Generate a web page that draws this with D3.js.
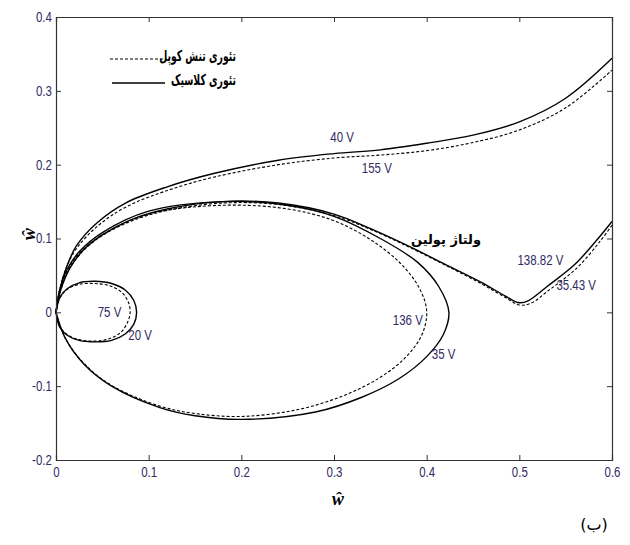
<!DOCTYPE html>
<html>
<head>
<meta charset="utf-8">
<script src="https://cdn.jsdelivr.net/npm/d3@7"></script>
<style>
  body { margin: 0; background: #fff; }
  .tick text { font-family: "Liberation Sans", Arial, sans-serif; font-size: 14px; fill: #2f2b63; }
  .ann { font-family: "Liberation Sans", Arial, sans-serif; font-size: 14px; fill: #2f2b63; }
  .fa { font-family: "DejaVu Sans", sans-serif; font-weight: bold; font-size: 13px; fill: #000; }
</style>
</head>
<body>
<svg id="chart" width="630" height="545"></svg>
<script>
// tick values
var xTicks = [0, 0.1, 0.2, 0.3, 0.4, 0.5, 0.6];
var xTickLabels = ['0', '0.1', '0.2', '0.3', '0.4', '0.5', '0.6'];
var yTicks = [-0.2, -0.1, 0, 0.1, 0.2, 0.3, 0.4];
var yTickLabels = ['-0.2', '-0.1', '0', '0.1', '0.2', '0.3', '0.4'];

// curves: [w, w-hat]
var top40 = [[0,0],[0.004,0.03],[0.011,0.06],[0.022,0.09],[0.045,0.122],[0.075,0.148],[0.12,0.17],[0.17,0.188],[0.24,0.206],[0.3,0.215],[0.35,0.22],[0.4,0.229],[0.45,0.24],[0.5,0.258],[0.55,0.29],[0.6,0.344]];
var top155 = [[0,0],[0.004,0.03],[0.011,0.06],[0.023,0.088],[0.046,0.118],[0.076,0.143],[0.12,0.165],[0.17,0.183],[0.24,0.2],[0.3,0.209],[0.35,0.213],[0.4,0.219],[0.45,0.23],[0.5,0.247],[0.55,0.277],[0.6,0.328]];

var pull3543 = [[0,0],[0.005,0.03],[0.015,0.06],[0.03,0.085],[0.05,0.105],[0.08,0.125],[0.12,0.14],[0.18,0.15],[0.24,0.148],[0.3,0.133],[0.34,0.113],[0.38,0.09],[0.42,0.065],[0.46,0.04],[0.485,0.022],[0.5,0.013],[0.51,0.016],[0.53,0.035],[0.56,0.065],[0.585,0.1],[0.6,0.123]];
var pull13882 = [[0,0],[0.005,0.03],[0.015,0.06],[0.03,0.084],[0.05,0.104],[0.08,0.123],[0.12,0.138],[0.18,0.148],[0.24,0.146],[0.3,0.131],[0.34,0.112],[0.38,0.089],[0.42,0.064],[0.46,0.038],[0.485,0.02],[0.5,0.01],[0.512,0.012],[0.532,0.03],[0.562,0.06],[0.587,0.096],[0.6,0.118]];

var loop35 = [[0,0],[0.004,0.03],[0.012,0.058],[0.025,0.082],[0.05,0.108],[0.1,0.137],[0.18,0.15],[0.25,0.145],[0.3,0.13],[0.35,0.1],[0.39,0.068],[0.413,0.035],[0.424,0],[0.418,-0.03],[0.4,-0.06],[0.37,-0.09],[0.33,-0.115],[0.28,-0.135],[0.2,-0.145],[0.15,-0.14],[0.112,-0.129],[0.06,-0.1],[0.03,-0.07],[0.01,-0.035],[0,0]];
var loop136 = [[0,0],[0.004,0.03],[0.012,0.057],[0.025,0.08],[0.05,0.105],[0.1,0.133],[0.18,0.145],[0.25,0.14],[0.3,0.124],[0.34,0.098],[0.372,0.066],[0.392,0.033],[0.4,0.002],[0.395,-0.03],[0.378,-0.06],[0.35,-0.088],[0.31,-0.113],[0.26,-0.132],[0.2,-0.141],[0.15,-0.137],[0.112,-0.127],[0.06,-0.099],[0.03,-0.069],[0.01,-0.035],[0,0]];

var loop20 = [[0,0],[0.004,0.02],[0.012,0.032],[0.025,0.04],[0.042,0.042],[0.06,0.039],[0.075,0.03],[0.084,0.016],[0.087,0],[0.084,-0.016],[0.075,-0.029],[0.06,-0.038],[0.042,-0.04],[0.025,-0.038],[0.012,-0.031],[0.004,-0.02],[0,0]];
var loop75 = [[0,0],[0.004,0.019],[0.012,0.031],[0.025,0.038],[0.042,0.039],[0.058,0.036],[0.071,0.027],[0.078,0.014],[0.08,0],[0.077,-0.014],[0.07,-0.027],[0.057,-0.036],[0.042,-0.039],[0.025,-0.037],[0.012,-0.03],[0.004,-0.019],[0,0]];

var solidCurves = [top40, pull3543, loop35, loop20];
var dashedCurves = [top155, pull13882, loop136, loop75];

// voltage labels [w, w-hat, text]
var voltLabels = [[0.296,0.237,'40 V'],[0.33,0.195,'155 V'],[0.045,0,'75 V'],[0.078,-0.031,'20 V'],[0.3635,-0.011,'136 V'],[0.4056,-0.056,'35 V'],[0.498,0.0705,'138.82 V'],[0.54,0.0366,'35.43 V']];

var svg = d3.select('#chart');

var x = d3.scaleLinear().domain([0, 0.6]).range([56, 612]);
var y = d3.scaleLinear().domain([-0.2, 0.4]).range([460, 17]);

var line = d3.line()
  .x(function(d){ return x(d[0]); })
  .y(function(d){ return y(d[1]); })
  .curve(d3.curveCatmullRom.alpha(0.5));

svg.append('g').selectAll('path')
  .data(solidCurves)
  .enter().append('path')
  .attr('d', line)
  .attr('fill', 'none')
  .attr('stroke', '#000')
  .attr('stroke-width', 1.4);

svg.append('g').selectAll('path')
  .data(dashedCurves)
  .enter().append('path')
  .attr('d', line)
  .attr('fill', 'none')
  .attr('stroke', '#000')
  .attr('stroke-width', 1.1)
  .attr('stroke-dasharray', '3,2');

// axes (MATLAB style box, inward ticks)
var fmtX = function(d, i){ return xTickLabels[i]; };
var fmtY = function(d, i){ return yTickLabels[i]; };

svg.append('g').attr('transform', 'translate(0,460)')
  .call(d3.axisBottom(x).tickValues(xTicks).tickFormat(fmtX).tickSize(-5).tickPadding(7));
svg.append('g').attr('transform', 'translate(56,0)')
  .call(d3.axisLeft(y).tickValues(yTicks).tickFormat(fmtY).tickSize(-5).tickPadding(5));
svg.append('g').attr('transform', 'translate(0,17)')
  .call(d3.axisTop(x).tickValues(xTicks).tickFormat('').tickSize(-5));
svg.append('g').attr('transform', 'translate(612,0)')
  .call(d3.axisRight(y).tickValues(yTicks).tickFormat('').tickSize(-5));

svg.selectAll('.domain').attr('stroke', '#333').attr('stroke-width', 1.2);
svg.selectAll('.tick line').attr('stroke', '#333');
// narrow look of the tick labels
svg.selectAll('.tick text').attr('transform', 'scale(0.82,1)');

// voltage annotations
svg.append('g').selectAll('text')
  .data(voltLabels)
  .enter().append('text')
  .attr('class', 'ann')
  .attr('transform', function(d){ return 'translate(' + x(d[0]) + ',' + y(d[1]) + ') scale(0.82,1)'; })
  .attr('dy', '0.35em')
  .text(function(d){ return d[2]; });

// pull-in label
svg.append('text').attr('class', 'fa')
  .attr('x', 446).attr('y', 244)
  .attr('text-anchor', 'middle')
  .text('ولتاژ پولین');

// legend
svg.append('line').attr('x1', 110).attr('x2', 166).attr('y1', 59).attr('y2', 59)
  .attr('stroke', '#000').attr('stroke-width', 1.1).attr('stroke-dasharray', '3,2');
svg.append('line').attr('x1', 112).attr('x2', 165).attr('y1', 83).attr('y2', 83)
  .attr('stroke', '#000').attr('stroke-width', 1.4);
svg.append('text').attr('class', 'fa').style('font-size', '15px')
  .attr('transform', 'translate(236,61) scale(0.62,1)')
  .attr('text-anchor', 'end').text('تئوری تنش کوپل');
svg.append('text').attr('class', 'fa').style('font-size', '15px')
  .attr('transform', 'translate(236,85) scale(0.62,1)')
  .attr('text-anchor', 'end').text('تئوری کلاسیک');

// axis titles
svg.append('text').attr('x', 338).attr('y', 505)
  .attr('text-anchor', 'middle')
  .style('font-family', '"Liberation Serif", serif').style('font-style', 'italic').style('font-weight', 'bold').style('font-size', '18px')
  .text('ŵ');

svg.append('text').attr('transform', 'translate(35,234) rotate(-90)')
  .attr('text-anchor', 'middle')
  .style('font-family', '"Liberation Serif", serif').style('font-style', 'italic').style('font-weight', 'bold').style('font-size', '18px')
  .text('ŵ');

// panel mark
svg.append('text').attr('x', 594).attr('y', 530)
  .attr('text-anchor', 'middle')
  .style('font-family', '"DejaVu Sans", sans-serif').style('font-size', '16px')
  .text('(ب)');
</script>
</body>
</html>
